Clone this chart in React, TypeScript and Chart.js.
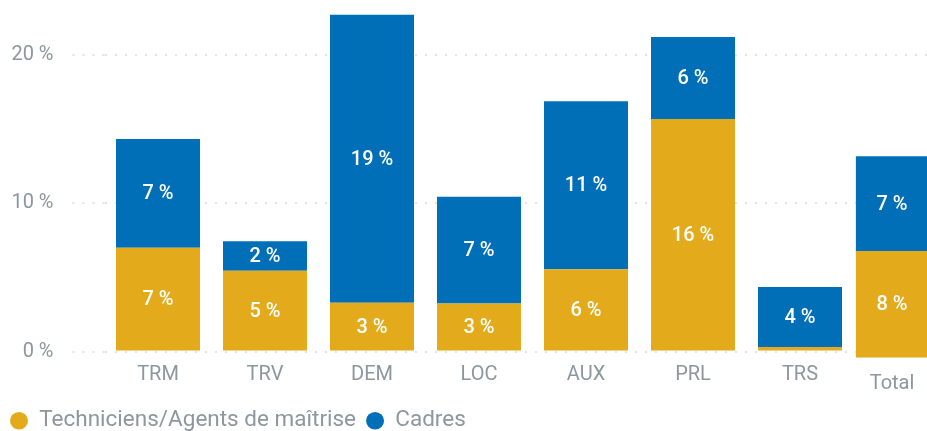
import React, { useEffect, useRef } from 'react';
import { Chart, registerables } from 'chart.js';

Chart.register(...registerables);

// ---- Data ----
const categories = ['TRM', 'TRV', 'DEM', 'LOC', 'AUX', 'PRL', 'TRS', 'Total'];
const techniciens = [7.0, 5.45, 3.3, 3.25, 5.55, 15.7, 0.3, 7.6];
const cadres = [7.35, 2.0, 19.45, 7.2, 11.35, 5.55, 4.05, 6.7];
const seriesNames = ['Techniciens/Agents de maîtrise', 'Cadres'];
const yTickValues = [0, 10, 20];
const Y_MAX = 21.65;

// ---- Style ----
const GOLD = '#E3AA1B';
const BLUE = '#006FB8';
const TEXT_GRAY = '#8C979F';
const GRID = '#E3E3E3';
const FONT = 'Roboto, "DejaVu Sans", sans-serif';
const FONT_SIZE = 20;
const LEGEND_FONT_SIZE = 22.5;
const X_TICK_PAD = 11;
const TOTAL_INDEX = categories.length - 1;
// the "Total" column is rendered as a slightly offset/smaller column
const totalColumn = { dx: -15, dy: 7, widthScale: 0.86, heightScale: 0.955, labelDy: 9 };

const columnAdjustPlugin = {
  id: 'columnAdjust',
  afterDatasetsUpdate(chart: any) {
    const yScale = chart.scales.y;
    const zero = yScale.getPixelForValue(0);
    chart.data.datasets.forEach((_: any, di: number) => {
      const el: any = chart.getDatasetMeta(di).data[TOTAL_INDEX];
      if (!el) return;
      el.x += totalColumn.dx;
      el.width *= totalColumn.widthScale;
      el.y = zero + totalColumn.dy + (el.y - zero) * totalColumn.heightScale;
      el.base = zero + totalColumn.dy + (el.base - zero) * totalColumn.heightScale;
    });
  },
};

const labelsPlugin = {
  id: 'segmentLabels',
  afterDatasetsDraw(chart: any) {
    const ctx = chart.ctx;
    ctx.save();
    ctx.font = `500 ${FONT_SIZE}px ${FONT}`;
    ctx.textAlign = 'center';
    ctx.textBaseline = 'middle';
    ctx.fillStyle = '#FFFFFF';
    chart.data.datasets.forEach((ds: any, di: number) => {
      const meta = chart.getDatasetMeta(di);
      meta.data.forEach((el: any, i: number) => {
        const h = Math.abs(el.base - el.y);
        if (h < 22) return;
        const v = ds.data[i];
        ctx.fillText(`${Math.round(v)} %`, el.x, (el.y + el.base) / 2 + 1);
      });
    });
    // "Total" category label (offset column)
    const xScale = chart.scales.x;
    const el: any = chart.getDatasetMeta(0).data[TOTAL_INDEX];
    if (el) {
      ctx.font = `${FONT_SIZE}px ${FONT}`;
      ctx.fillStyle = TEXT_GRAY;
      ctx.fillText(
        categories[TOTAL_INDEX],
        el.x,
        xScale.top + X_TICK_PAD + (FONT_SIZE * 1.2) / 2 + totalColumn.labelDy
      );
    }
    ctx.restore();
  },
};

export default function App() {
  const canvasRef = useRef<HTMLCanvasElement | null>(null);

  useEffect(() => {
    if (!canvasRef.current) return;
    const chart = new Chart(canvasRef.current, {
      type: 'bar',
      data: {
        labels: categories,
        datasets: [
          {
            label: seriesNames[0],
            data: techniciens,
            backgroundColor: GOLD,
            borderWidth: 0,
            barPercentage: 0.785,
            categoryPercentage: 1,
            clip: false as any,
          },
          {
            label: seriesNames[1],
            data: cadres,
            backgroundColor: BLUE,
            borderWidth: 0,
            barPercentage: 0.785,
            categoryPercentage: 1,
            clip: false as any,
          },
        ],
      },
      options: {
        animation: false,
        responsive: true,
        maintainAspectRatio: false,
        layout: { padding: { top: 0, right: 19.5, left: 0, bottom: -11 } },
        scales: {
          x: {
            stacked: true,
            grid: { display: false, drawTicks: false },
            border: { display: false },
            ticks: {
              color: TEXT_GRAY,
              font: { family: FONT, size: FONT_SIZE },
              padding: X_TICK_PAD,
              maxRotation: 0,
              autoSkip: false,
              callback: (_v: any, i: number) => (i === TOTAL_INDEX ? '' : categories[i]),
            },
            afterFit: (scale: any) => {
              scale.height = 48;
            },
          },
          y: {
            stacked: true,
            min: 0,
            max: Y_MAX,
            afterBuildTicks: (scale: any) => {
              scale.ticks = yTickValues.map((v) => ({ value: v }));
            },
            afterFit: (scale: any) => {
              scale.width = 104.5;
            },
            grid: {
              color: GRID,
              lineWidth: 2,
              tickLength: 32,
              tickBorderDash: [2, 8],
              tickColor: GRID,
              tickWidth: 2,
            },
            border: { display: false, dash: [2, 8] },
            ticks: {
              color: TEXT_GRAY,
              font: { family: FONT, size: FONT_SIZE },
              padding: 19,
              callback: (v: any) => `${v} %`,
            },
          },
        },
        plugins: {
          legend: {
            position: 'bottom',
            align: 'start',
            labels: {
              usePointStyle: true,
              pointStyle: 'circle',
              boxHeight: 12.5,
              pointStyleWidth: 18,
              color: TEXT_GRAY,
              font: { family: FONT, size: LEGEND_FONT_SIZE },
              padding: 10,
            },
          },
          tooltip: { enabled: false },
        },
      },
      plugins: [columnAdjustPlugin, labelsPlugin],
    });
    return () => chart.destroy();
  }, []);

  return (
    <div
      style={{
        position: 'fixed',
        left: 0,
        top: 0,
        width: 927,
        height: 431,
        overflow: 'hidden',
        background: '#fff',
      }}
    >
      <div style={{ position: 'relative', width: 980, height: 431 }}>
        <canvas ref={canvasRef} />
      </div>
    </div>
  );
}
